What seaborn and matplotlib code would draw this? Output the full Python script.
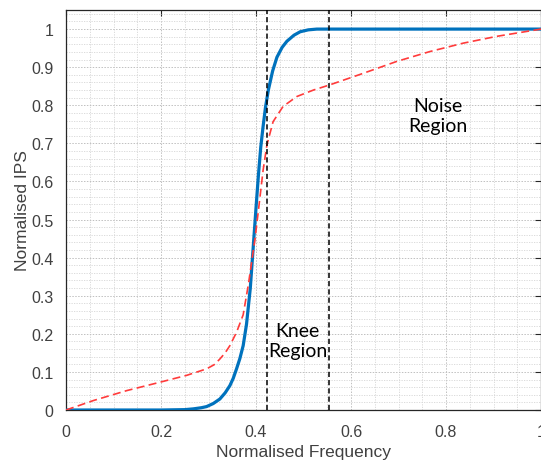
import numpy as np
import pandas as pd
import matplotlib
matplotlib.use("Agg")
import matplotlib.pyplot as plt
from matplotlib.ticker import MultipleLocator, FixedLocator, FuncFormatter
import seaborn as sns

# ---- data ----
ideal_x = [0.0, 0.10, 0.20, 0.25, 0.268, 0.285, 0.296, 0.310, 0.324, 0.335, 0.345,
           0.352, 0.359, 0.366, 0.373, 0.380, 0.388, 0.394, 0.400, 0.405, 0.410,
           0.415, 0.420, 0.426, 0.435, 0.444, 0.455, 0.465, 0.480, 0.493, 0.510,
           0.528, 0.60, 0.80, 1.0]
ideal_y = [0.0, 0.0, 0.0, 0.001, 0.003, 0.006, 0.009, 0.017, 0.029, 0.045, 0.064,
           0.083, 0.108, 0.135, 0.169, 0.225, 0.320, 0.425, 0.530, 0.615, 0.690,
           0.745, 0.795, 0.840, 0.890, 0.926, 0.952, 0.968, 0.984, 0.993, 0.998,
           1.0, 1.0, 1.0, 1.0]

meas_x = [0.0, 0.058, 0.128, 0.198, 0.254, 0.296, 0.312, 0.324, 0.335, 0.345,
          0.359, 0.373, 0.384, 0.398, 0.408, 0.415, 0.423, 0.436, 0.457, 0.486,
          0.521, 0.554, 0.626, 0.696, 0.766, 0.836, 0.907, 1.0]
meas_y = [0.0, 0.025, 0.051, 0.073, 0.091, 0.108, 0.119, 0.134, 0.150, 0.169,
          0.204, 0.250, 0.330, 0.450, 0.555, 0.630, 0.696, 0.757, 0.797, 0.823,
          0.840, 0.853, 0.884, 0.915, 0.941, 0.963, 0.981, 1.0]

region_bounds = [0.424, 0.554]
region_labels = ["Knee\nRegion", "Noise\nRegion"]
region_label_x = [0.488, 0.783]
region_label_y = [0.183, 0.773]

x_ticks = [0.0, 0.2, 0.4, 0.6, 0.8, 1.0]
y_ticks = [0.0, 0.1, 0.2, 0.3, 0.4, 0.5, 0.6, 0.7, 0.8, 0.9, 1.0]
x_label = "Normalised Frequency"
y_label = "Normalised IPS"

# ---- style ----
sns.set_style("white")
plt.rcParams['font.family'] = ['Liberation Sans', 'DejaVu Sans']

fig = plt.figure(figsize=(5.41, 4.64), dpi=100)
ax = fig.add_axes([0.122, 0.1142, 0.878, 0.862])

df_ideal = pd.DataFrame({"x": ideal_x, "y": ideal_y})
df_meas = pd.DataFrame({"x": meas_x, "y": meas_y})

sns.lineplot(data=df_ideal, x="x", y="y", ax=ax, color="#0072BD",
             linewidth=2.3, zorder=4, estimator=None)
sns.lineplot(data=df_meas, x="x", y="y", ax=ax, color="#FF3B3B",
             linewidth=1.2, zorder=5, estimator=None)
ax.lines[-1].set_dashes((4.8, 2.6))

for b in region_bounds:
    ln = ax.axvline(b, color="black", linewidth=1.1, zorder=6)
    ln.set_dashes((3.4, 2.0))

for t, tx, ty in zip(region_labels, region_label_x, region_label_y):
    ax.text(tx, ty, t, ha="center", va="center", fontsize=14,
            family=["Lato", "DejaVu Sans"], color="black", linespacing=1.2,
            zorder=7)

ax.set_xlim(0, 1.0)
ax.set_ylim(0, 1.05)
ax.xaxis.set_major_locator(FixedLocator(x_ticks))
ax.yaxis.set_major_locator(FixedLocator(y_ticks))
ax.xaxis.set_minor_locator(MultipleLocator(0.05))
ax.yaxis.set_minor_locator(MultipleLocator(0.02))
fmt = FuncFormatter(lambda v, p: f"{v:g}")
ax.xaxis.set_major_formatter(fmt)
ax.yaxis.set_major_formatter(fmt)

ax.grid(which="major", linestyle=(0, (1.5, 1.5)), color="#c0c0c0", linewidth=0.7)
ax.grid(which="minor", linestyle=(0, (1.5, 1.5)), color="#d6d6d6", linewidth=0.6)
ax.set_axisbelow(True)

ax.tick_params(which="major", direction="in", length=4, width=0.8,
               top=True, right=True, colors="#262626",
               labelcolor="#404040", labelsize=11.5)
ax.tick_params(axis="x", which="major", pad=10)
ax.tick_params(axis="y", which="major", pad=9)
ax.tick_params(which="minor", length=0)

for s in ax.spines.values():
    s.set_color("#262626")
    s.set_linewidth(0.9)
    s.set_visible(True)

ax.set_xlabel(x_label, fontsize=12.5, color="#404040", labelpad=4)
ax.set_ylabel(y_label, fontsize=12.5, color="#404040", labelpad=1)

fig.savefig("out.png", dpi=100)
